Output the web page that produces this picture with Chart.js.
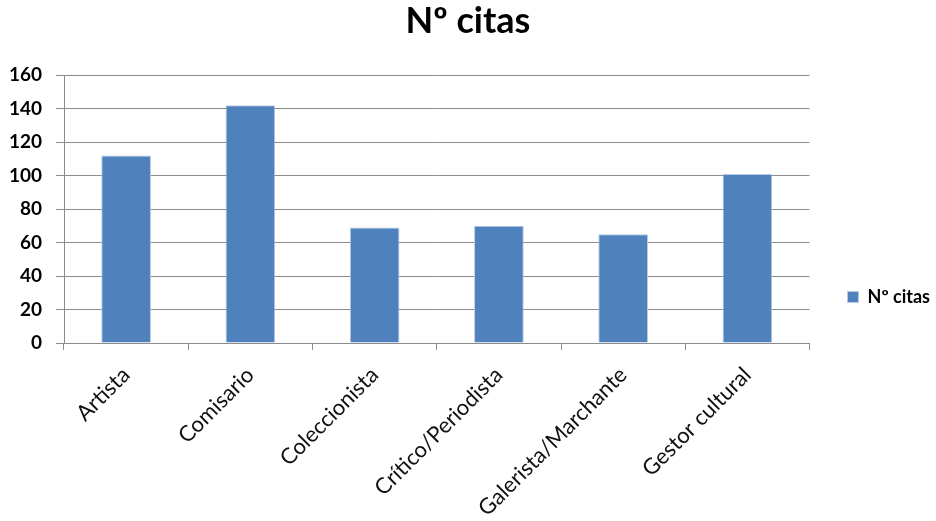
<!DOCTYPE html>
<html lang="es">
<head>
<meta charset="utf-8">
<title>Nº citas</title>
<script src="https://cdn.jsdelivr.net/npm/chart.js@4/dist/chart.umd.min.js"></script>
<style>
  html, body { margin: 0; padding: 0; background: #fff; }
  #wrap { width: 936px; height: 521px; }
</style>
</head>
<body>
<div id="wrap"><canvas id="grafico" width="936" height="521"></canvas></div>
<script>
// categorías y valores
const categorias = ["Artista", "Comisario", "Coleccionista", "Crítico/Periodista", "Galerista/Marchante", "Gestor cultural"];
const citas = [112, 142, 69, 70, 65, 101];
const ticksY = [0, 20, 40, 60, 80, 100, 120, 140, 160];

const FUENTE = "Lato, 'Open Sans', sans-serif";
const GRIS = "#8c8c8c";

// la leyenda va a la derecha, un poco por debajo del centro del gráfico
const moverLeyenda = {
  id: "moverLeyenda",
  afterLayout(chart) {
    const l = chart.legend;
    const w = l.right - l.left;
    const h = l.bottom - l.top;
    l.left = chart.chartArea.right + 4;
    l.right = l.left + w;
    l.top = 297 - h / 2;
    l.bottom = l.top + h;
  }
};

new Chart(document.getElementById("grafico"), {
  type: "bar",
  data: {
    labels: categorias,
    datasets: [{
      label: "Nº citas",
      data: citas,
      backgroundColor: "#4f81bd",
      borderColor: "#b9cbe4",
      borderWidth: 1,
      barPercentage: 0.4,
      categoryPercentage: 1
    }]
  },
  options: {
    responsive: false,
    animation: false,
    layout: { padding: 0 },
    plugins: {
      title: {
        display: true,
        text: "Nº citas",
        color: "#000",
        font: { family: FUENTE, size: 36, weight: "bold" },
        padding: { top: 0, bottom: 32 }
      },
      legend: {
        position: "right",
        labels: {
          color: "#000",
          boxWidth: 11,
          boxHeight: 11,
          padding: 34,
          font: { family: FUENTE, size: 18, weight: "bold" }
        }
      },
      tooltip: { enabled: false }
    },
    scales: {
      x: {
        grid: {
          display: true,
          drawOnChartArea: false,
          drawTicks: true,
          tickLength: 7,
          color: GRIS
        },
        border: { color: GRIS },
        ticks: {
          color: "#111",
          font: { family: FUENTE, size: 22 },
          minRotation: 45,
          maxRotation: 45,
          padding: 12,
          autoSkip: false
        },
        afterFit(s) { s.height = 521 - 343; }
      },
      y: {
        min: 0,
        max: 160,
        afterBuildTicks(s) { s.ticks = ticksY.map(v => ({ value: v })); },
        grid: { color: GRIS, tickLength: 8 },
        border: { color: GRIS },
        ticks: {
          color: "#000",
          padding: 14,
          font: { family: FUENTE, size: 19, weight: "bold" }
        },
        afterFit(s) { s.width = 64; }
      }
    }
  },
  plugins: [moverLeyenda]
});
</script>
</body>
</html>
